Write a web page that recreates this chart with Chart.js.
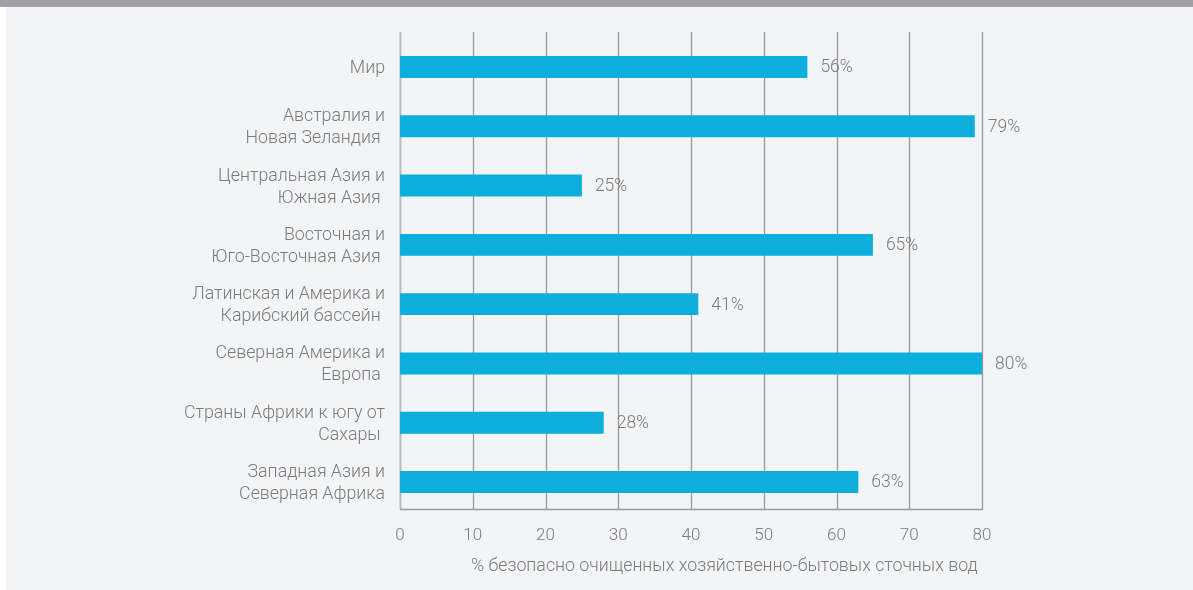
<!DOCTYPE html>
<html lang="ru">
<head>
<meta charset="utf-8">
<title>Очистка сточных вод</title>
<script src="https://cdn.jsdelivr.net/npm/chart.js@4.4.1/dist/chart.umd.min.js"></script>
<style>
    html, body { margin: 0; padding: 0; background: #ffffff; }
    .top-band { position: absolute; left: 0; top: 0; width: 1193px; height: 7px; background: #a1a1a5; }
    .panel { position: absolute; left: 6px; top: 7px; width: 1187px; height: 583px; background: #f3f4f6; }
</style>
</head>
<body>
<div class="top-band"></div>
<div class="panel">
    <canvas id="wasteChart" width="1187" height="583"></canvas>
</div>
<script>
// Regions (multi-line labels, trailing spaces kept as in the layout)
const regions = [
    ['Мир'],
    ['Австралия и', 'Новая Зеландия '],
    ['Центральная Азия и', 'Южная Азия '],
    ['Восточная и', 'Юго-Восточная Азия '],
    ['Латинская и Америка и', 'Карибский бассейн '],
    ['Северная Америка и', 'Европа '],
    ['Страны Африки к югу от', 'Сахары '],
    ['Западная Азия и', 'Северная Африка']
];

// Share of safely treated domestic wastewater, %
const treatedShare = [56, 79, 25, 65, 41, 80, 28, 63];

const axisTicks = [0, 10, 20, 30, 40, 50, 60, 70, 80];
const axisTitle = '% безопасно очищенных хозяйственно-бытовых сточных вод ';

const textColor = '#7b7b7b';
const barColor = '#0caedb';
const fontFamily = 'Roboto, "Noto Sans", sans-serif';

// Vertical grid lines + baseline, drawn slightly outside the category band
const gridPlugin = {
    id: 'gridLines',
    beforeDatasetsDraw(chart) {
        const { ctx, chartArea, scales } = chart;
        const top = chartArea.top - 5.5;
        const bottom = chartArea.bottom - 2.5;
        ctx.save();
        axisTicks.forEach(v => {
            const x = Math.round(scales.x.getPixelForValue(v)) + 0.5;
            ctx.beginPath();
            ctx.strokeStyle = v === 0 ? '#bdbdbd' : '#9a9a9a';
            ctx.lineWidth = v === 0 ? 2 : 1.3;
            ctx.moveTo(x, top);
            ctx.lineTo(x, bottom);
            ctx.stroke();
        });
        ctx.beginPath();
        ctx.strokeStyle = '#9a9a9a';
        ctx.lineWidth = 1.3;
        ctx.moveTo(scales.x.getPixelForValue(0), Math.round(bottom) + 0.5);
        ctx.lineTo(scales.x.getPixelForValue(80) + 1, Math.round(bottom) + 0.5);
        ctx.stroke();
        ctx.restore();
    }
};

// Percent labels at the end of each bar
const valueLabels = {
    id: 'valueLabels',
    afterDatasetsDraw(chart) {
        const { ctx } = chart;
        const meta = chart.getDatasetMeta(0);
        ctx.save();
        ctx.font = '300 17.5px ' + fontFamily;
        ctx.fillStyle = textColor;
        ctx.textAlign = 'left';
        ctx.textBaseline = 'middle';
        meta.data.forEach((bar, i) => {
            ctx.fillText(treatedShare[i] + '%', bar.x + 13, bar.y + 1);
        });
        ctx.restore();
    }
};

new Chart(document.getElementById('wasteChart'), {
    type: 'bar',
    data: {
        labels: regions,
        datasets: [{
            data: treatedShare,
            backgroundColor: barColor,
            borderWidth: 0,
            barPercentage: 0.37,
            categoryPercentage: 1
        }]
    },
    options: {
        indexAxis: 'y',
        responsive: false,
        animation: false,
        layout: { padding: { top: 30.4, right: 211, bottom: 0, left: 0 } },
        plugins: {
            legend: { display: false },
            tooltip: { enabled: false }
        },
        scales: {
            x: {
                min: 0,
                max: 80,
                afterBuildTicks: scale => { scale.ticks = axisTicks.map(v => ({ value: v })); },
                afterFit: scale => { scale.height = 78.4; },
                grid: { display: false, drawTicks: false },
                border: { display: false },
                ticks: {
                    color: textColor,
                    padding: 14,
                    font: { family: fontFamily, size: 17, weight: 300 }
                },
                title: {
                    display: true,
                    text: axisTitle,
                    align: 'end',
                    color: textColor,
                    padding: { top: 0, bottom: 13 },
                    font: { family: fontFamily, size: 17.8, weight: 300 }
                }
            },
            y: {
                afterFit: scale => {
                    scale.width = 394;
                    scale.paddingTop = 0;
                    scale.paddingBottom = 0;
                },
                grid: { display: false, drawTicks: false },
                border: { display: false },
                ticks: {
                    color: textColor,
                    padding: 15,
                    labelOffset: 1.5,
                    font: { family: fontFamily, size: 17.8, weight: 300, lineHeight: 1.236 }
                }
            }
        }
    },
    plugins: [gridPlugin, valueLabels]
});
</script>
</body>
</html>
